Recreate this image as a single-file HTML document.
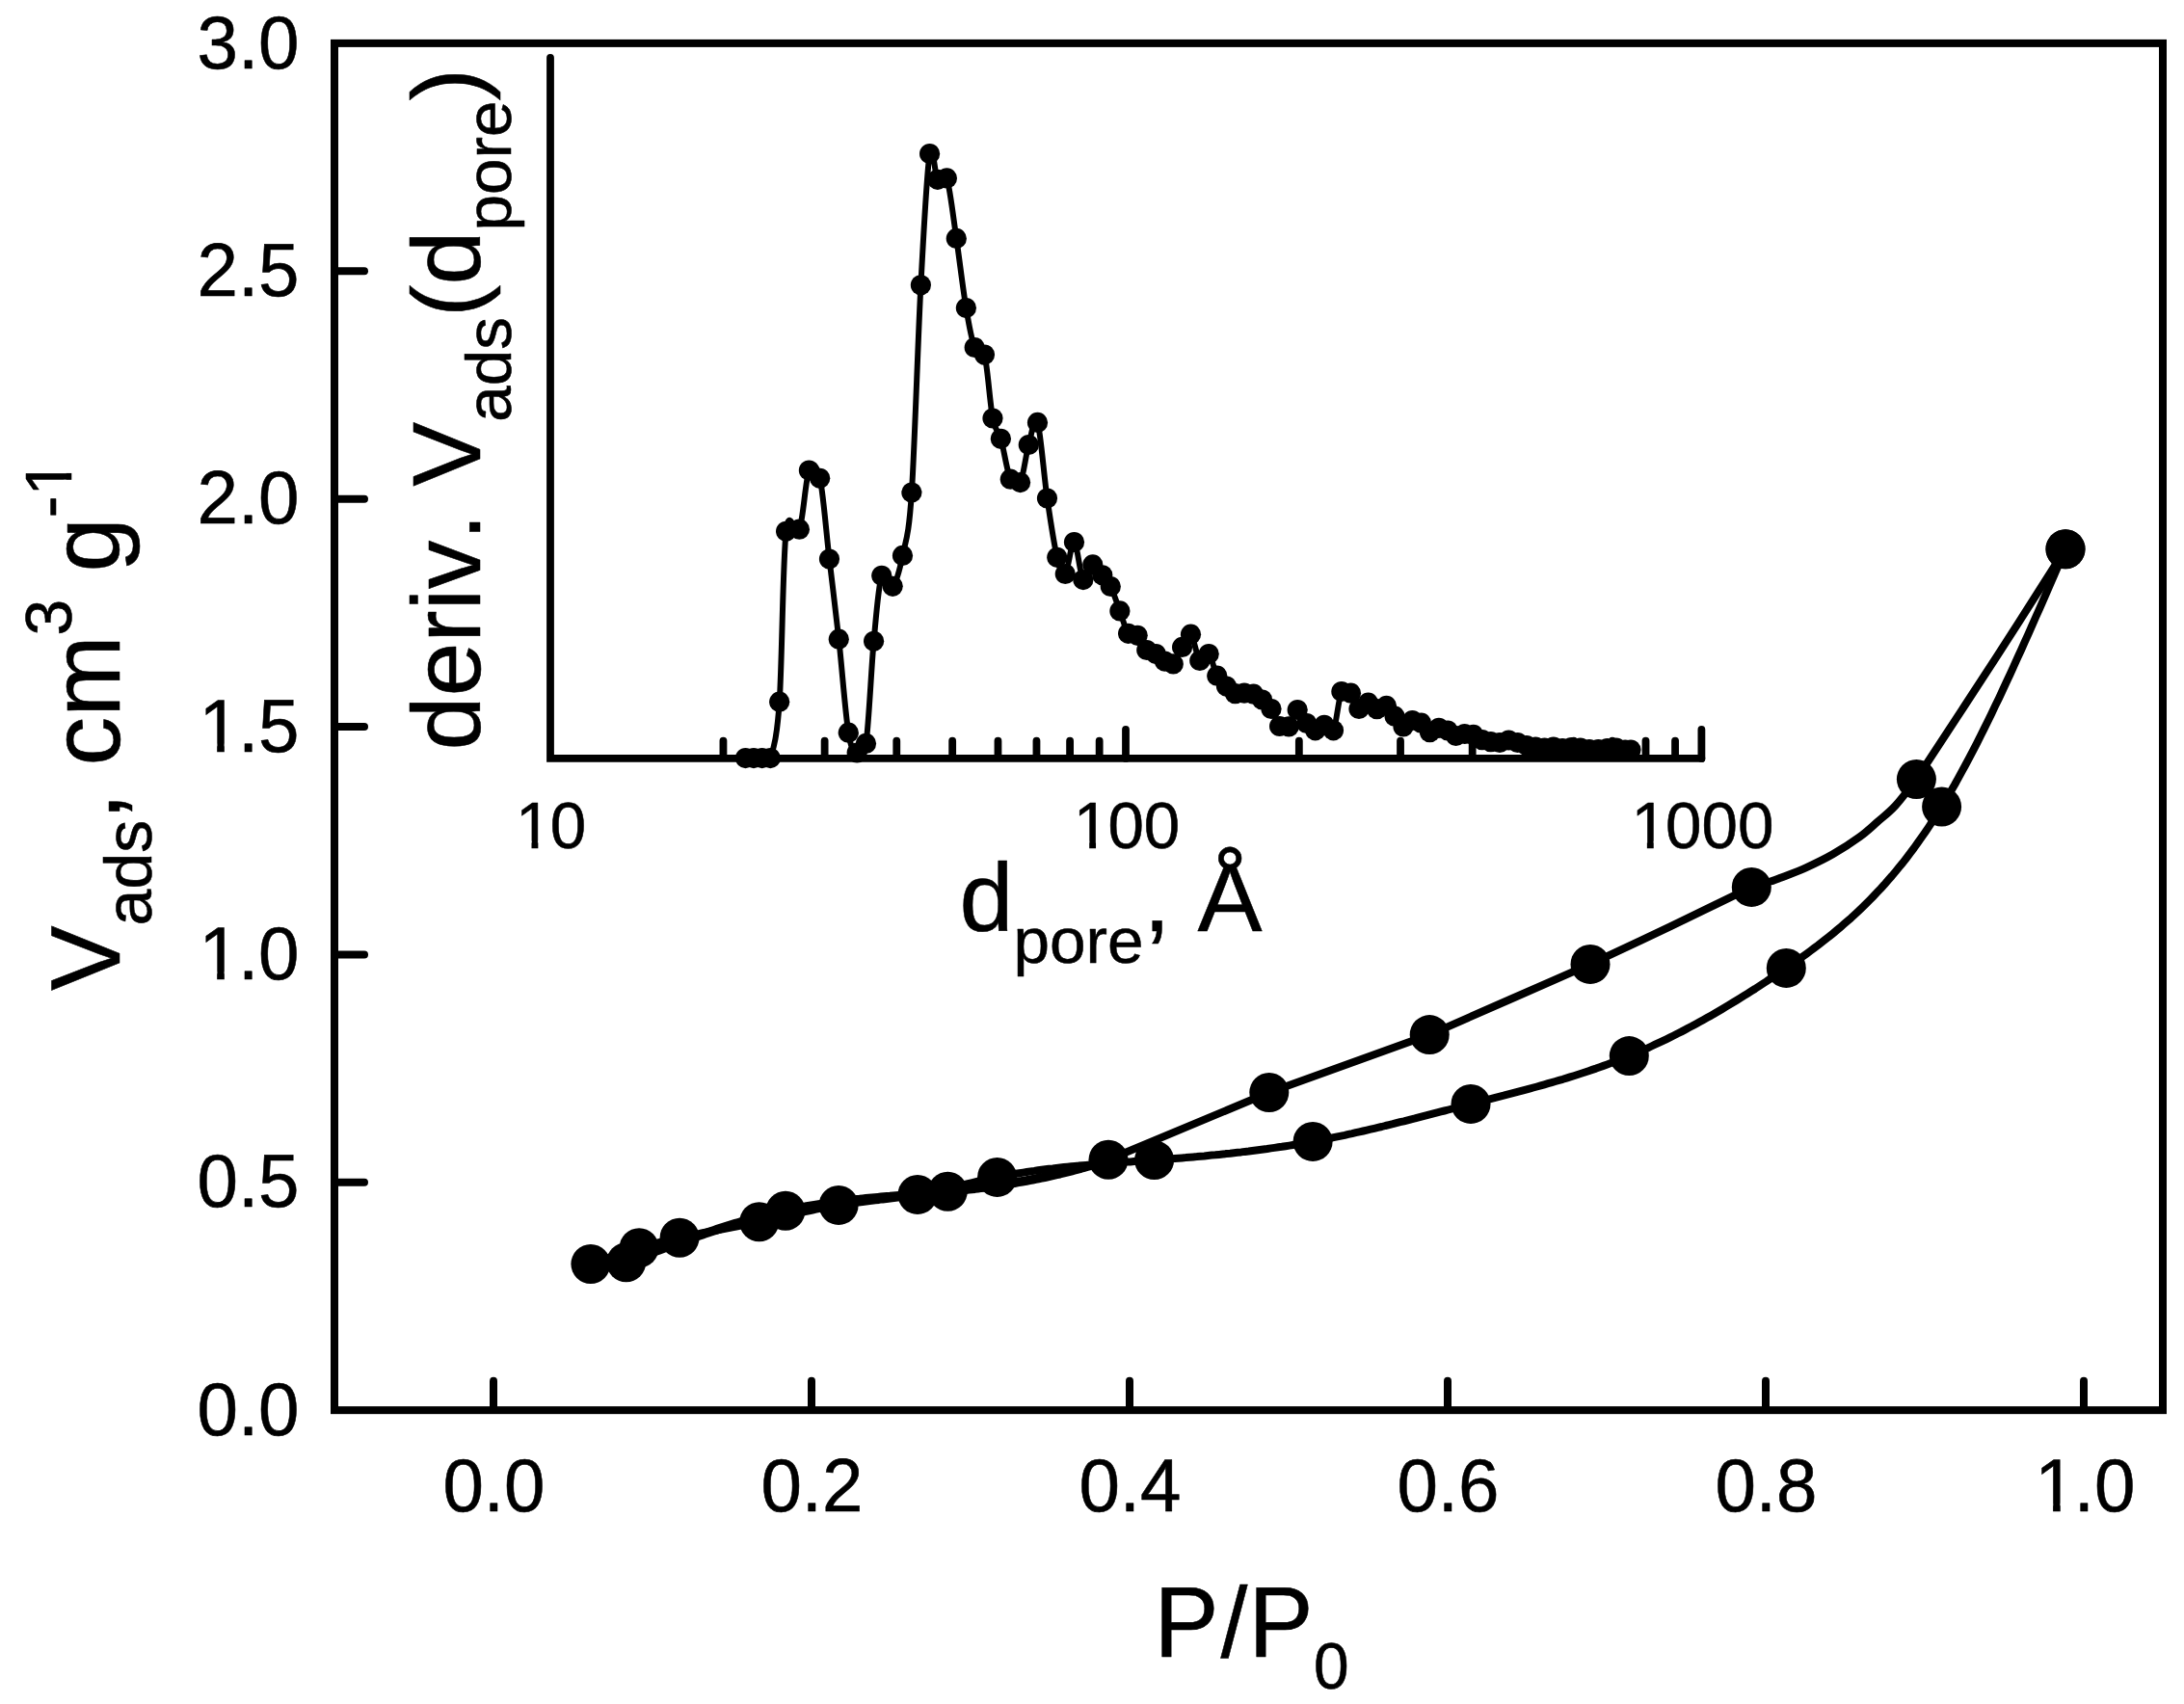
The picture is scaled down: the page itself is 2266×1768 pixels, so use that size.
<!DOCTYPE html>
<html lang="en">
<head>
<meta charset="utf-8">
<title>Isotherm</title>
<style>html,body{margin:0;padding:0;background:#fff;}svg{display:block;}</style>
</head>
<body>
<svg width="2266" height="1768" viewBox="0 0 2266 1768" font-family='"Liberation Sans", sans-serif' fill="#000" shape-rendering="geometricPrecision">
<style>text{stroke:#000;stroke-width:0.55px;stroke-linejoin:round}</style>
<rect x="0" y="0" width="2266" height="1768" fill="#fff"/>
<rect x="347.0" y="44.9" width="1897.0" height="1418.25" fill="none" stroke="#000" stroke-width="8.0" stroke-linejoin="miter"/>
<g stroke="#000" stroke-width="8.0" stroke-linecap="round">
<line x1="348.0" y1="1226.78" x2="378.0" y2="1226.78"/>
<line x1="348.0" y1="990.40" x2="378.0" y2="990.40"/>
<line x1="348.0" y1="754.03" x2="378.0" y2="754.03"/>
<line x1="348.0" y1="517.65" x2="378.0" y2="517.65"/>
<line x1="348.0" y1="281.28" x2="378.0" y2="281.28"/>
<line x1="512.00" y1="1462.15" x2="512.00" y2="1432.85"/>
<line x1="842.00" y1="1462.15" x2="842.00" y2="1432.85"/>
<line x1="1172.00" y1="1462.15" x2="1172.00" y2="1432.85"/>
<line x1="1502.00" y1="1462.15" x2="1502.00" y2="1432.85"/>
<line x1="1832.00" y1="1462.15" x2="1832.00" y2="1432.85"/>
<line x1="2162.00" y1="1462.15" x2="2162.00" y2="1432.85"/>
</g>
<g font-size="76.3" text-anchor="end">
<text transform="translate(310.50,1488.75) scale(1,1.02)">0.0</text>
<text transform="translate(310.50,1252.38) scale(1,1.02)">0.5</text>
<text transform="translate(308.52,1016.00) scale(1,1.02)"><tspan class="one" dx="0.026em">1</tspan><tspan dx="-0.026em">.0</tspan></text>
<text transform="translate(308.52,779.63) scale(1,1.02)"><tspan class="one" dx="0.026em">1</tspan><tspan dx="-0.026em">.5</tspan></text>
<text transform="translate(310.50,543.25) scale(1,1.02)">2.0</text>
<text transform="translate(310.50,306.88) scale(1,1.02)">2.5</text>
<text transform="translate(310.50,70.50) scale(1,1.02)">3.0</text>
</g>
<g font-size="76.3" text-anchor="middle">
<text transform="translate(512.40,1567.8) scale(1,1.02)">0.0</text>
<text transform="translate(842.40,1567.8) scale(1,1.02)">0.2</text>
<text transform="translate(1172.40,1567.8) scale(1,1.02)">0.4</text>
<text transform="translate(1502.40,1567.8) scale(1,1.02)">0.6</text>
<text transform="translate(1832.40,1567.8) scale(1,1.02)">0.8</text>
<text transform="translate(2161.41,1567.8) scale(1,1.02)"><tspan class="one" dx="0.026em">1</tspan><tspan dx="-0.026em">.0</tspan></text>
</g>
<text transform="translate(0,1719) scale(1,1.04)" font-size="100.5"><tspan x="1197.6">P</tspan><tspan x="1266.6">/</tspan><tspan x="1295.6">P</tspan><tspan x="1363.0" font-size="65.8" dy="32.02">0</tspan></text>
<text transform="translate(124,1028) rotate(-90)" font-size="101.3">V<tspan font-size="68.0" dy="32.5">ads</tspan><tspan dy="-32.5">, cm</tspan><tspan font-size="68.0" dy="-50.5">3</tspan><tspan dy="50.5"> g</tspan><tspan font-size="68.0" dy="-50.5">-<tspan class="one">1</tspan></tspan></text>
<g stroke="#000" stroke-width="7.8" stroke-linecap="round" fill="none">
<path d="M571.0 59.8 L571.0 786.9 L1765.40 786.9" stroke-linejoin="miter"/>
<line x1="750.44" y1="785.9" x2="750.44" y2="768.70"/>
<line x1="855.63" y1="785.9" x2="855.63" y2="768.70"/>
<line x1="930.27" y1="785.9" x2="930.27" y2="768.70"/>
<line x1="988.16" y1="785.9" x2="988.16" y2="768.70"/>
<line x1="1035.47" y1="785.9" x2="1035.47" y2="768.70"/>
<line x1="1075.46" y1="785.9" x2="1075.46" y2="768.70"/>
<line x1="1110.11" y1="785.9" x2="1110.11" y2="768.70"/>
<line x1="1140.66" y1="785.9" x2="1140.66" y2="768.70"/>
<line x1="1347.84" y1="785.9" x2="1347.84" y2="768.70"/>
<line x1="1453.03" y1="785.9" x2="1453.03" y2="768.70"/>
<line x1="1527.67" y1="785.9" x2="1527.67" y2="768.70"/>
<line x1="1585.56" y1="785.9" x2="1585.56" y2="768.70"/>
<line x1="1632.87" y1="785.9" x2="1632.87" y2="768.70"/>
<line x1="1672.86" y1="785.9" x2="1672.86" y2="768.70"/>
<line x1="1707.51" y1="785.9" x2="1707.51" y2="768.70"/>
<line x1="1738.06" y1="785.9" x2="1738.06" y2="768.70"/>
<line x1="1168.00" y1="786.9" x2="1168.00" y2="756.90"/>
<line x1="1765.40" y1="786.9" x2="1765.40" y2="756.90"/>
</g>
<g font-size="67.3" text-anchor="middle">
<text transform="translate(569.83,880) scale(1,1.02)"><tspan class="one" dx="0.026em">1</tspan><tspan dx="-0.026em">0</tspan></text>
<text transform="translate(1167.23,880) scale(1,1.02)"><tspan class="one" dx="0.026em">1</tspan><tspan dx="-0.026em">00</tspan></text>
<text transform="translate(1764.63,880) scale(1,1.02)"><tspan class="one" dx="0.026em">1</tspan><tspan dx="-0.026em">000</tspan></text>
</g>
<text x="995.6" y="966" font-size="100.5">d<tspan font-size="67.5" dy="33.0">pore</tspan><tspan dy="-33.0">, Å</tspan></text>
<text transform="translate(498.0,778.5) rotate(-90)" font-size="100.5">deriv<tspan dx="7.5">. V</tspan><tspan font-size="67.5" dy="31.5">ads</tspan><tspan dy="-31.5">(d</tspan><tspan font-size="67.5" dy="31.5">pore</tspan><tspan dy="-31.5">)</tspan></text>
<path d="M773.5 786.6 C774.9 786.6 779.1 786.6 782.0 786.6 C784.9 786.6 787.8 786.6 790.7 786.6 C793.6 786.6 796.3 796.3 799.3 786.6 C802.3 776.9 806.0 767.4 808.7 728.2 C811.4 689.0 812.2 581.1 815.6 551.3 C819.0 521.5 825.4 559.7 829.4 549.2 C833.4 538.7 835.8 496.9 839.4 488.1 C843.0 479.3 847.2 481.0 850.7 496.3 C854.2 511.6 857.2 552.3 860.5 580.1 C863.8 607.9 867.0 633.2 870.3 663.2 C873.6 693.2 877.1 740.6 880.3 760.2 C883.4 779.8 886.2 779.1 889.2 781.0 C892.2 782.9 895.6 790.7 898.5 771.4 C901.4 752.1 903.9 694.3 906.6 665.3 C909.3 636.3 911.5 606.8 914.8 597.3 C918.1 587.8 922.6 611.8 926.2 608.3 C929.8 604.8 933.2 592.6 936.5 576.4 C939.8 560.2 942.8 557.8 945.9 511.0 C949.0 464.2 952.3 354.4 955.4 295.8 C958.5 237.2 961.7 177.8 964.6 159.5 C967.5 141.2 969.8 182.1 972.8 186.3 C975.8 190.5 979.1 174.7 982.4 184.9 C985.6 195.1 989.0 224.9 992.3 247.4 C995.6 269.9 999.2 300.8 1002.4 319.6 C1005.5 338.5 1008.0 352.4 1011.2 360.5 C1014.4 368.6 1018.4 355.9 1021.5 368.1 C1024.6 380.4 1027.2 419.5 1030.0 434.0 C1032.8 448.5 1035.4 444.8 1038.4 455.3 C1041.5 465.8 1044.9 489.6 1048.3 497.2 C1051.7 504.8 1055.4 506.6 1058.6 500.6 C1061.8 494.7 1064.3 471.9 1067.3 461.5 C1070.3 451.1 1073.3 429.1 1076.5 438.4 C1079.7 447.6 1083.1 493.7 1086.5 517.0 C1089.9 540.3 1093.7 565.2 1096.8 578.3 C1099.9 591.4 1102.3 598.1 1105.3 595.5 C1108.2 592.9 1111.4 561.5 1114.5 562.5 C1117.6 563.5 1120.7 597.7 1123.9 601.6 C1127.1 605.5 1130.5 586.7 1133.8 585.9 C1137.1 585.1 1140.7 593.0 1143.8 596.8 C1146.9 600.6 1149.3 602.3 1152.3 608.5 C1155.3 614.7 1158.9 625.8 1161.9 633.9 C1165.0 642.0 1167.5 653.1 1170.6 657.3 C1173.6 661.5 1177.0 656.4 1180.2 659.3 C1183.4 662.2 1186.6 671.3 1189.8 674.5 C1193.0 677.7 1196.3 676.7 1199.4 678.6 C1202.5 680.5 1205.4 684.4 1208.4 686.1 C1211.4 687.8 1214.3 691.4 1217.3 688.9 C1220.3 686.4 1223.6 676.5 1226.6 671.4 C1229.6 666.3 1232.5 655.9 1235.5 658.2 C1238.5 660.5 1241.7 682.0 1244.8 685.4 C1247.9 688.8 1251.2 675.9 1254.2 678.5 C1257.2 681.1 1259.8 695.6 1262.8 701.2 C1265.8 706.8 1269.4 709.0 1272.5 712.1 C1275.6 715.2 1278.5 718.5 1281.6 719.7 C1284.7 720.9 1287.8 719.1 1291.0 719.2 C1294.2 719.3 1297.5 719.1 1300.6 720.2 C1303.7 721.3 1306.5 723.5 1309.6 726.0 C1312.7 728.5 1316.0 730.9 1319.0 735.5 C1322.0 740.1 1324.6 750.4 1327.6 753.5 C1330.6 756.6 1334.1 756.7 1337.2 753.9 C1340.3 751.1 1343.1 737.1 1346.2 736.5 C1349.3 735.9 1352.7 747.0 1355.8 750.5 C1358.9 754.0 1361.7 757.5 1364.7 757.8 C1367.7 758.1 1370.9 752.3 1374.0 752.3 C1377.1 752.3 1380.5 763.6 1383.5 757.8 C1386.5 752.0 1388.9 723.9 1391.9 717.5 C1394.9 711.1 1398.5 716.2 1401.5 719.2 C1404.5 722.2 1407.0 733.7 1410.0 735.4 C1413.0 737.1 1416.5 729.2 1419.6 729.2 C1422.7 729.2 1425.4 735.2 1428.6 735.7 C1431.8 736.2 1435.4 731.1 1438.5 732.4 C1441.6 733.6 1444.2 739.6 1447.1 743.2 C1450.0 746.8 1453.0 753.2 1456.0 753.9 C1459.0 754.6 1462.3 748.1 1465.4 747.5 C1468.5 746.9 1471.6 748.2 1474.6 750.2 C1477.6 752.2 1480.5 758.9 1483.5 759.7 C1486.5 760.6 1489.8 755.6 1492.9 755.3 C1496.0 755.0 1499.1 756.6 1502.1 758.0 C1505.0 759.4 1507.7 762.9 1510.6 763.5 C1513.5 764.1 1516.6 761.7 1519.6 761.5 C1522.6 761.3 1525.8 761.4 1528.8 762.4 C1531.8 763.4 1534.8 766.5 1537.8 767.7 C1540.8 768.9 1543.7 769.2 1546.7 769.7 C1549.7 770.2 1552.9 770.8 1556.0 770.5 C1559.1 770.2 1562.2 768.0 1565.3 768.0 C1568.4 768.0 1571.5 769.6 1574.6 770.5 C1577.7 771.4 1580.8 772.8 1583.9 773.5 C1587.0 774.2 1590.1 774.6 1593.2 775.0 C1596.3 775.4 1599.4 776.0 1602.5 776.0 C1605.6 776.0 1608.7 774.9 1611.8 775.0 C1614.9 775.1 1618.0 776.4 1621.1 776.5 C1624.2 776.6 1627.3 775.6 1630.4 775.5 C1633.5 775.4 1636.6 775.7 1639.7 776.0 C1642.8 776.3 1645.9 777.2 1649.0 777.5 C1652.1 777.8 1655.2 777.7 1658.3 777.5 C1661.4 777.3 1664.5 776.8 1667.6 776.5 C1670.7 776.2 1673.8 775.8 1676.9 776.0 C1680.0 776.2 1683.7 777.7 1686.2 778.0 C1688.7 778.3 1691.0 778.0 1692.0 778.0" fill="none" stroke="#000" stroke-width="6" stroke-linejoin="round" stroke-linecap="round"/>
<g>
<circle cx="773.5" cy="786.6" r="10.6"/>
<circle cx="782.0" cy="786.6" r="10.6"/>
<circle cx="790.7" cy="786.6" r="10.6"/>
<circle cx="799.3" cy="786.6" r="10.6"/>
<circle cx="808.7" cy="728.2" r="10.6"/>
<circle cx="815.6" cy="551.3" r="10.6"/>
<circle cx="829.4" cy="549.2" r="10.6"/>
<circle cx="839.4" cy="488.1" r="10.6"/>
<circle cx="850.7" cy="496.3" r="10.6"/>
<circle cx="860.5" cy="580.1" r="10.6"/>
<circle cx="870.3" cy="663.2" r="10.6"/>
<circle cx="880.3" cy="760.2" r="10.6"/>
<circle cx="889.2" cy="781.0" r="10.6"/>
<circle cx="898.5" cy="771.4" r="10.6"/>
<circle cx="906.6" cy="665.3" r="10.6"/>
<circle cx="914.8" cy="597.3" r="10.6"/>
<circle cx="926.2" cy="608.3" r="10.6"/>
<circle cx="936.5" cy="576.4" r="10.6"/>
<circle cx="945.9" cy="511.0" r="10.6"/>
<circle cx="955.4" cy="295.8" r="10.6"/>
<circle cx="964.6" cy="159.5" r="10.6"/>
<circle cx="972.8" cy="186.3" r="10.6"/>
<circle cx="982.4" cy="184.9" r="10.6"/>
<circle cx="992.3" cy="247.4" r="10.6"/>
<circle cx="1002.4" cy="319.6" r="10.6"/>
<circle cx="1011.2" cy="360.5" r="10.6"/>
<circle cx="1021.5" cy="368.1" r="10.6"/>
<circle cx="1030.0" cy="434.0" r="10.6"/>
<circle cx="1038.4" cy="455.3" r="10.6"/>
<circle cx="1048.3" cy="497.2" r="10.6"/>
<circle cx="1058.6" cy="500.6" r="10.6"/>
<circle cx="1067.3" cy="461.5" r="10.6"/>
<circle cx="1076.5" cy="438.4" r="10.6"/>
<circle cx="1086.5" cy="517.0" r="10.6"/>
<circle cx="1096.8" cy="578.3" r="10.6"/>
<circle cx="1105.3" cy="595.5" r="10.6"/>
<circle cx="1114.5" cy="562.5" r="10.6"/>
<circle cx="1123.9" cy="601.6" r="10.6"/>
<circle cx="1133.8" cy="585.9" r="10.6"/>
<circle cx="1143.8" cy="596.8" r="10.6"/>
<circle cx="1152.3" cy="608.5" r="10.6"/>
<circle cx="1161.9" cy="633.9" r="10.6"/>
<circle cx="1170.6" cy="657.3" r="10.6"/>
<circle cx="1180.2" cy="659.3" r="10.6"/>
<circle cx="1189.8" cy="674.5" r="10.6"/>
<circle cx="1199.4" cy="678.6" r="10.6"/>
<circle cx="1208.4" cy="686.1" r="10.6"/>
<circle cx="1217.3" cy="688.9" r="10.6"/>
<circle cx="1226.6" cy="671.4" r="10.6"/>
<circle cx="1235.5" cy="658.2" r="10.6"/>
<circle cx="1244.8" cy="685.4" r="10.6"/>
<circle cx="1254.2" cy="678.5" r="10.6"/>
<circle cx="1262.8" cy="701.2" r="10.6"/>
<circle cx="1272.5" cy="712.1" r="10.6"/>
<circle cx="1281.6" cy="719.7" r="10.6"/>
<circle cx="1291.0" cy="719.2" r="10.6"/>
<circle cx="1300.6" cy="720.2" r="10.6"/>
<circle cx="1309.6" cy="726.0" r="10.6"/>
<circle cx="1319.0" cy="735.5" r="10.6"/>
<circle cx="1327.6" cy="753.5" r="10.6"/>
<circle cx="1337.2" cy="753.9" r="10.6"/>
<circle cx="1346.2" cy="736.5" r="10.6"/>
<circle cx="1355.8" cy="750.5" r="10.6"/>
<circle cx="1364.7" cy="757.8" r="10.6"/>
<circle cx="1374.0" cy="752.3" r="10.6"/>
<circle cx="1383.5" cy="757.8" r="10.6"/>
<circle cx="1391.9" cy="717.5" r="10.6"/>
<circle cx="1401.5" cy="719.2" r="10.6"/>
<circle cx="1410.0" cy="735.4" r="10.6"/>
<circle cx="1419.6" cy="729.2" r="10.6"/>
<circle cx="1428.6" cy="735.7" r="10.6"/>
<circle cx="1438.5" cy="732.4" r="10.6"/>
<circle cx="1447.1" cy="743.2" r="10.6"/>
<circle cx="1456.0" cy="753.9" r="10.6"/>
<circle cx="1465.4" cy="747.5" r="10.6"/>
<circle cx="1474.6" cy="750.2" r="10.6"/>
<circle cx="1483.5" cy="759.7" r="10.6"/>
<circle cx="1492.9" cy="755.3" r="10.6"/>
<circle cx="1502.1" cy="758.0" r="10.6"/>
<circle cx="1510.6" cy="763.5" r="10.6"/>
<circle cx="1519.6" cy="761.5" r="10.6"/>
<circle cx="1528.8" cy="762.4" r="10.6"/>
<circle cx="1537.8" cy="767.7" r="10.6"/>
<circle cx="1546.7" cy="769.7" r="10.6"/>
<circle cx="1556.0" cy="770.5" r="10.6"/>
<circle cx="1565.3" cy="768.0" r="10.6"/>
<circle cx="1574.6" cy="770.5" r="10.6"/>
<circle cx="1583.9" cy="773.5" r="10.6"/>
<circle cx="1593.2" cy="775.0" r="10.6"/>
<circle cx="1602.5" cy="776.0" r="10.6"/>
<circle cx="1611.8" cy="775.0" r="10.6"/>
<circle cx="1621.1" cy="776.5" r="10.6"/>
<circle cx="1630.4" cy="775.5" r="10.6"/>
<circle cx="1639.7" cy="776.0" r="10.6"/>
<circle cx="1649.0" cy="777.5" r="10.6"/>
<circle cx="1658.3" cy="777.5" r="10.6"/>
<circle cx="1667.6" cy="776.5" r="10.6"/>
<circle cx="1676.9" cy="776.0" r="10.6"/>
<circle cx="1686.2" cy="778.0" r="10.6"/>
<circle cx="1692.0" cy="778.0" r="10.6"/>
</g>
<g fill="none" stroke="#000" stroke-width="8.0" stroke-linejoin="round" stroke-linecap="round">
<path d="M612.9 1311.5 L616.7 1310.1 L620.6 1308.8 L624.4 1307.4 L628.2 1306.1 L632.1 1304.7 L635.9 1303.4 L639.7 1302.1 L643.6 1300.8 L647.4 1299.6 L651.2 1298.3 L655.1 1297.1 L658.9 1295.9 L662.8 1294.8 L666.6 1293.7 L670.4 1292.6 L674.3 1291.6 L678.1 1290.6 L681.9 1289.6 L685.8 1288.6 L689.6 1287.7 L693.4 1286.8 L697.3 1285.9 L701.1 1285.1 L704.9 1284.2 L708.8 1283.4 L712.6 1282.6 L716.4 1281.8 L720.3 1281.0 L724.1 1280.3 L727.9 1279.5 L731.8 1278.8 L735.6 1278.0 L739.4 1277.3 L743.3 1276.6 L747.1 1275.8 L751.0 1275.1 L754.8 1274.4 L758.6 1273.6 L762.5 1272.9 L766.3 1272.1 L770.1 1271.4 L774.0 1270.6 L777.8 1269.9 L781.6 1269.1 L785.5 1268.3 L789.3 1267.5 L793.1 1266.6 L797.0 1265.8 L800.8 1264.9 L804.6 1264.1 L808.5 1263.2 L812.3 1262.3 L816.1 1261.5 L820.0 1260.6 L823.8 1259.7 L827.7 1258.9 L831.5 1258.0 L835.3 1257.2 L839.2 1256.3 L843.0 1255.5 L846.8 1254.7 L850.7 1253.9 L854.5 1253.2 L858.3 1252.5 L862.2 1251.8 L866.0 1251.1 L869.8 1250.4 L873.7 1249.8 L877.5 1249.3 L881.3 1248.7 L885.2 1248.2 L889.0 1247.7 L892.8 1247.2 L896.7 1246.7 L900.5 1246.2 L904.3 1245.8 L908.2 1245.3 L912.0 1244.9 L915.9 1244.4 L919.7 1244.0 L923.5 1243.5 L927.4 1243.0 L931.2 1242.5 L935.0 1242.0 L938.9 1241.5 L942.7 1240.9 L946.5 1240.3 L950.4 1239.7 L954.2 1239.0 L958.0 1238.3 L961.9 1237.6 L965.7 1236.8 L969.5 1236.0 L973.4 1235.2 L977.2 1234.4 L981.0 1233.5 L984.9 1232.7 L988.7 1231.8 L992.5 1230.9 L996.4 1230.0 L1000.2 1229.1 L1004.1 1228.2 L1007.9 1227.3 L1011.7 1226.4 L1015.6 1225.5 L1019.4 1224.7 L1023.2 1223.8 L1027.1 1223.0 L1030.9 1222.2 L1034.7 1221.4 L1038.6 1220.6 L1042.4 1219.9 L1046.2 1219.2 L1050.1 1218.5 L1053.9 1217.8 L1057.7 1217.2 L1061.6 1216.6 L1065.4 1216.0 L1069.2 1215.4 L1073.1 1214.9 L1076.9 1214.3 L1080.8 1213.8 L1084.6 1213.3 L1088.4 1212.8 L1092.3 1212.4 L1096.1 1211.9 L1099.9 1211.5 L1103.8 1211.1 L1107.6 1210.7 L1111.4 1210.3 L1115.3 1209.9 L1119.1 1209.6 L1122.9 1209.2 L1126.8 1208.9 L1130.6 1208.6 L1134.4 1208.2 L1138.3 1207.9 L1142.1 1207.6 L1145.9 1207.3 L1149.8 1207.0 L1153.6 1206.7 L1157.4 1206.5 L1161.3 1206.2 L1165.1 1205.9 L1169.0 1205.6 L1172.8 1205.4 L1176.6 1205.1 L1180.5 1204.8 L1184.3 1204.6 L1188.1 1204.3 L1192.0 1204.0 L1195.8 1203.7 L1199.6 1203.5 L1203.5 1203.2 L1207.3 1202.9 L1211.1 1202.6 L1215.0 1202.3 L1218.8 1202.0 L1222.6 1201.7 L1226.5 1201.4 L1230.3 1201.1 L1234.1 1200.7 L1238.0 1200.4 L1241.8 1200.1 L1245.6 1199.7 L1249.5 1199.4 L1253.3 1199.0 L1257.2 1198.6 L1261.0 1198.3 L1264.8 1197.9 L1268.7 1197.5 L1272.5 1197.1 L1276.3 1196.7 L1280.2 1196.2 L1284.0 1195.8 L1287.8 1195.4 L1291.7 1194.9 L1295.5 1194.5 L1299.3 1194.0 L1303.2 1193.5 L1307.0 1193.0 L1310.8 1192.5 L1314.7 1192.0 L1318.5 1191.4 L1322.3 1190.9 L1326.2 1190.3 L1330.0 1189.8 L1333.8 1189.2 L1337.7 1188.6 L1341.5 1188.0 L1345.4 1187.3 L1349.2 1186.7 L1353.0 1186.0 L1356.9 1185.3 L1360.7 1184.7 L1364.5 1184.0 L1368.4 1183.2 L1372.2 1182.5 L1376.0 1181.7 L1379.9 1181.0 L1383.7 1180.2 L1387.5 1179.4 L1391.4 1178.6 L1395.2 1177.8 L1399.0 1176.9 L1402.9 1176.1 L1406.7 1175.2 L1410.5 1174.4 L1414.4 1173.5 L1418.2 1172.6 L1422.1 1171.7 L1425.9 1170.8 L1429.7 1169.9 L1433.6 1169.0 L1437.4 1168.0 L1441.2 1167.1 L1445.1 1166.2 L1448.9 1165.2 L1452.7 1164.2 L1456.6 1163.3 L1460.4 1162.3 L1464.2 1161.3 L1468.1 1160.4 L1471.9 1159.4 L1475.7 1158.4 L1479.6 1157.4 L1483.4 1156.4 L1487.2 1155.4 L1491.1 1154.4 L1494.9 1153.4 L1498.7 1152.5 L1502.6 1151.5 L1506.4 1150.5 L1510.3 1149.5 L1514.1 1148.5 L1517.9 1147.5 L1521.8 1146.5 L1525.6 1145.5 L1529.4 1144.5 L1533.3 1143.5 L1537.1 1142.6 L1540.9 1141.6 L1544.8 1140.6 L1548.6 1139.6 L1552.4 1138.6 L1556.3 1137.6 L1560.1 1136.7 L1563.9 1135.7 L1567.8 1134.7 L1571.6 1133.7 L1575.4 1132.7 L1579.3 1131.6 L1583.1 1130.6 L1586.9 1129.6 L1590.8 1128.5 L1594.6 1127.5 L1598.5 1126.4 L1602.3 1125.3 L1606.1 1124.2 L1610.0 1123.1 L1613.8 1122.0 L1617.6 1120.9 L1621.5 1119.8 L1625.3 1118.6 L1629.1 1117.4 L1633.0 1116.2 L1636.8 1115.0 L1640.6 1113.8 L1644.5 1112.5 L1648.3 1111.2 L1652.1 1109.9 L1656.0 1108.6 L1659.8 1107.2 L1663.6 1105.9 L1667.5 1104.5 L1671.3 1103.1 L1675.1 1101.6 L1679.0 1100.1 L1682.8 1098.6 L1686.7 1097.1 L1690.5 1095.5 L1694.3 1093.9 L1698.2 1092.3 L1702.0 1090.6 L1705.8 1089.0 L1709.7 1087.3 L1713.5 1085.5 L1717.3 1083.7 L1721.2 1081.9 L1725.0 1080.1 L1728.8 1078.3 L1732.7 1076.4 L1736.5 1074.5 L1740.3 1072.5 L1744.2 1070.6 L1748.0 1068.6 L1751.8 1066.5 L1755.7 1064.5 L1759.5 1062.4 L1763.4 1060.3 L1767.2 1058.2 L1771.0 1056.1 L1774.9 1053.9 L1778.7 1051.7 L1782.5 1049.5 L1786.4 1047.2 L1790.2 1044.9 L1794.0 1042.6 L1797.9 1040.3 L1801.7 1038.0 L1805.5 1035.6 L1809.4 1033.2 L1813.2 1030.8 L1817.0 1028.4 L1820.9 1026.0 L1824.7 1023.5 L1828.5 1021.0 L1832.4 1018.5 L1836.2 1015.9 L1840.0 1013.4 L1843.9 1010.8 L1847.7 1008.2 L1851.6 1005.6 L1855.4 1003.0 L1859.2 1000.3 L1863.1 997.6 L1866.9 994.9 L1870.7 992.2 L1874.6 989.4 L1878.4 986.6 L1882.2 983.8 L1886.1 980.9 L1889.9 977.9 L1893.7 974.9 L1897.6 971.9 L1901.4 968.8 L1905.2 965.6 L1909.1 962.4 L1912.9 959.1 L1916.7 955.8 L1920.6 952.4 L1924.4 948.9 L1928.2 945.3 L1932.1 941.6 L1935.9 937.9 L1939.8 934.0 L1943.6 930.1 L1947.4 926.1 L1951.3 922.0 L1955.1 917.8 L1958.9 913.4 L1962.8 909.0 L1966.6 904.5 L1970.4 899.8 L1974.3 895.1 L1978.1 890.2 L1981.9 885.1 L1985.8 880.0 L1989.6 874.7 L1993.4 869.3 L1997.3 863.8 L2001.1 858.1 L2004.9 852.3 L2008.8 846.3 L2012.6 840.2 L2016.5 834.0 L2020.3 827.5 L2024.1 821.0 L2028.0 814.3 L2031.8 807.4 L2035.6 800.4 L2039.5 793.3 L2043.3 786.1 L2047.1 778.8 L2051.0 771.3 L2054.8 763.7 L2058.6 756.1 L2062.5 748.3 L2066.3 740.4 L2070.1 732.4 L2074.0 724.4 L2077.8 716.2 L2081.6 708.0 L2085.5 699.7 L2089.3 691.4 L2093.1 682.9 L2097.0 674.5 L2100.8 665.9 L2104.7 657.3 L2108.5 648.7 L2112.3 640.0 L2116.2 631.3 L2120.0 622.6 L2123.8 613.8 L2127.7 605.0 L2131.5 596.2 L2135.3 587.4 L2139.2 578.5 L2143.0 569.7"/>
<path d="M649.7 1309.7 L652.8 1308.5 L656.0 1307.3 L659.1 1306.1 L662.3 1304.9 L665.4 1303.7 L668.6 1302.6 L671.7 1301.4 L674.9 1300.2 L678.0 1299.0 L681.2 1297.8 L684.3 1296.7 L687.5 1295.5 L690.6 1294.3 L693.8 1293.2 L696.9 1292.0 L700.0 1290.9 L703.2 1289.7 L706.3 1288.6 L709.5 1287.5 L712.6 1286.3 L715.8 1285.2 L718.9 1284.1 L722.1 1283.0 L725.2 1281.9 L728.4 1280.9 L731.5 1279.8 L734.7 1278.7 L737.8 1277.7 L740.9 1276.7 L744.1 1275.6 L747.2 1274.6 L750.4 1273.6 L753.5 1272.6 L756.7 1271.6 L759.8 1270.7 L763.0 1269.7 L766.1 1268.8 L769.3 1267.8 L772.4 1266.9 L775.6 1266.0 L778.7 1265.2 L781.9 1264.3 L785.0 1263.4 L788.1 1262.6 L791.3 1261.8 L794.4 1261.0 L797.6 1260.2 L800.7 1259.4 L803.9 1258.7 L807.0 1258.0 L810.2 1257.3 L813.3 1256.6 L816.5 1255.9 L819.6 1255.2 L822.8 1254.6 L825.9 1254.0 L829.1 1253.4 L832.2 1252.8 L835.3 1252.3 L838.5 1251.7 L841.6 1251.2 L844.8 1250.7 L847.9 1250.2 L851.1 1249.7 L854.2 1249.2 L857.4 1248.8 L860.5 1248.3 L863.7 1247.9 L866.8 1247.5 L870.0 1247.1 L873.1 1246.7 L876.3 1246.3 L879.4 1246.0 L882.5 1245.6 L885.7 1245.2 L888.8 1244.9 L892.0 1244.6 L895.1 1244.2 L898.3 1243.9 L901.4 1243.6 L904.6 1243.3 L907.7 1243.0 L910.9 1242.7 L914.0 1242.4 L917.2 1242.1 L920.3 1241.8 L923.4 1241.6 L926.6 1241.3 L929.7 1241.0 L932.9 1240.7 L936.0 1240.5 L939.2 1240.2 L942.3 1239.9 L945.5 1239.7 L948.6 1239.4 L951.8 1239.1 L954.9 1238.8 L958.1 1238.6 L961.2 1238.3 L964.4 1238.0 L967.5 1237.7 L970.6 1237.4 L973.8 1237.1 L976.9 1236.8 L980.1 1236.5 L983.2 1236.2 L986.4 1235.9 L989.5 1235.6 L992.7 1235.2 L995.8 1234.9 L999.0 1234.5 L1002.1 1234.2 L1005.3 1233.8 L1008.4 1233.4 L1011.6 1233.1 L1014.7 1232.7 L1017.8 1232.3 L1021.0 1231.9 L1024.1 1231.4 L1027.3 1231.0 L1030.4 1230.6 L1033.6 1230.1 L1036.7 1229.7 L1039.9 1229.2 L1043.0 1228.7 L1046.2 1228.2 L1049.3 1227.7 L1052.5 1227.2 L1055.6 1226.6 L1058.8 1226.1 L1061.9 1225.5 L1065.0 1225.0 L1068.2 1224.4 L1071.3 1223.8 L1074.5 1223.1 L1077.6 1222.5 L1080.8 1221.9 L1083.9 1221.2 L1087.1 1220.5 L1090.2 1219.8 L1093.4 1219.1 L1096.5 1218.4 L1099.7 1217.7 L1102.8 1216.9 L1105.9 1216.1 L1109.1 1215.3 L1112.2 1214.5 L1115.4 1213.7 L1118.5 1212.8 L1121.7 1212.0 L1124.8 1211.1 L1128.0 1210.2 L1131.1 1209.3 L1134.3 1208.3 L1137.4 1207.4 L1140.6 1206.4 L1143.7 1205.4 L1146.9 1204.3 L1150.0 1203.3" stroke-width="9.6"/>
<path d="M1150.0 1203.3 C1177.8 1191.7 1289.0 1145.1 1316.8 1133.5 M1316.8 1133.5 C1344.5 1123.5 1455.5 1083.6 1483.2 1073.6 M1483.2 1073.6 C1511.0 1061.4 1622.2 1012.6 1650.0 1000.4 M1650.0 1000.4 C1663.9 993.9 1705.5 974.4 1733.4 961.1 C1761.3 947.8 1803.3 927.2 1817.3 920.4 M1817.3 920.4 C1820.7 919.4 1832.8 915.9 1837.8 914.3 C1842.8 912.7 1841.4 913.2 1847.5 910.8 C1853.6 908.4 1865.2 904.2 1874.2 900.1 C1883.2 896.0 1892.5 891.6 1901.7 886.3 C1910.9 881.0 1921.5 874.1 1929.2 868.5 C1937.0 862.9 1942.0 857.9 1948.2 852.5 C1954.4 847.1 1959.8 843.3 1966.5 836.0 C1973.2 828.7 1984.8 813.1 1988.4 808.5 M1988.4 808.5 C2002.4 787.2 2046.3 720.4 2072.1 680.6 C2097.9 640.8 2131.2 588.2 2143.0 569.7"/>
</g>
<g>
<circle cx="612.9" cy="1311.5" r="20.5"/>
<circle cx="649.7" cy="1309.7" r="20.5"/>
<circle cx="663.1" cy="1294.7" r="20.5"/>
<circle cx="705.1" cy="1284.2" r="20.5"/>
<circle cx="787.7" cy="1267.8" r="20.5"/>
<circle cx="815.0" cy="1256.2" r="20.5"/>
<circle cx="870.1" cy="1250.4" r="20.5"/>
<circle cx="952.0" cy="1239.4" r="20.5"/>
<circle cx="983.3" cy="1236.2" r="20.5"/>
<circle cx="1034.6" cy="1221.4" r="20.5"/>
<circle cx="1150.0" cy="1203.3" r="20.5"/>
<circle cx="1316.8" cy="1133.5" r="20.5"/>
<circle cx="1483.2" cy="1073.6" r="20.5"/>
<circle cx="1650.0" cy="1000.4" r="20.5"/>
<circle cx="1817.3" cy="920.4" r="20.5"/>
<circle cx="1988.4" cy="808.5" r="20.5"/>
<circle cx="2143.0" cy="569.7" r="20.5"/>
<circle cx="1197.6" cy="1203.6" r="20.5"/>
<circle cx="1362.1" cy="1184.4" r="20.5"/>
<circle cx="1526.0" cy="1145.4" r="20.5"/>
<circle cx="1690.3" cy="1095.6" r="20.5"/>
<circle cx="1853.3" cy="1004.4" r="20.5"/>
<circle cx="2014.6" cy="837.0" r="20.5"/>
<circle cx="2143.0" cy="569.7" r="20.5"/>
</g>
<g fill="#fff" stroke="none"><polygon points="209.74,1019.06 225.17,1019.06 225.17,1007.94 209.74,1007.94"/><polygon points="232.81,1019.06 247.64,1019.06 247.64,1007.94 232.81,1007.94"/><polygon points="209.74,782.69 225.17,782.69 225.17,771.57 209.74,771.57"/><polygon points="232.81,782.69 247.64,782.69 247.64,771.57 232.81,771.57"/><polygon points="2114.67,1570.86 2130.10,1570.86 2130.10,1559.74 2114.67,1559.74"/><polygon points="2137.73,1570.86 2152.56,1570.86 2152.56,1559.74 2137.73,1559.74"/><polygon points="76.50,511.80 76.50,497.83 66.22,497.83 66.22,511.80"/><polygon points="76.50,490.93 76.50,477.49 66.22,477.49 66.22,490.93"/><polygon points="537.65,883.06 551.49,883.06 551.49,872.63 537.65,872.63"/><polygon points="558.34,883.06 571.66,883.06 571.66,872.63 558.34,872.63"/><polygon points="1116.34,883.06 1130.18,883.06 1130.18,872.63 1116.34,872.63"/><polygon points="1137.03,883.06 1150.35,883.06 1150.35,872.63 1137.03,872.63"/><polygon points="1695.03,883.06 1708.87,883.06 1708.87,872.63 1695.03,872.63"/><polygon points="1715.72,883.06 1729.04,883.06 1729.04,872.63 1715.72,872.63"/></g>
</svg>
</body>
</html>
